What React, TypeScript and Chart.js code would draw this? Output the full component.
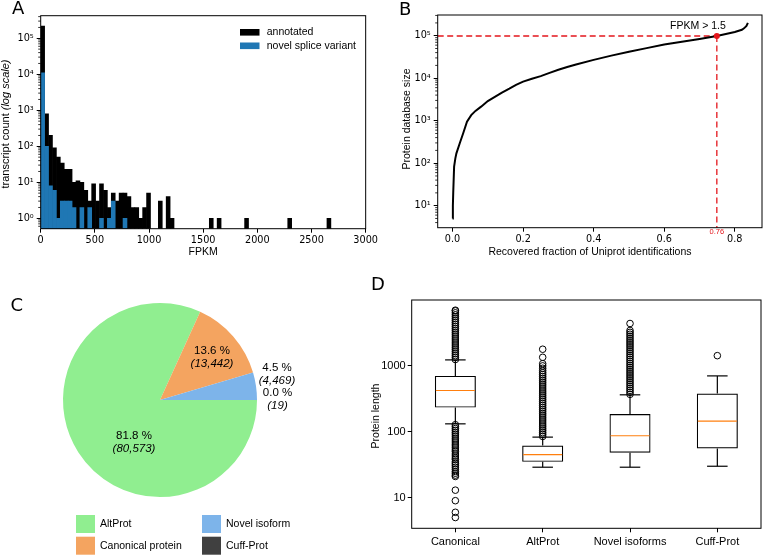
import React, { useEffect, useRef } from 'react';
import { Chart, registerables } from 'chart.js';

Chart.register(...registerables);
Chart.defaults.color = '#000';
Chart.defaults.font.family = 'DejaVu Sans';

// ---------------- Panel A: FPKM histogram ----------------
const FPKM_BIN_WIDTH = 36.2;
const annotatedCounts: (number | null)[] = [
  220000, 800, 200, 90, 50, 34, 23, 23, 10, 11,
  10, 6, 3, 9, 3, 9, 6, 2, 5, 3,
  5, 5, 4, 2, 2, 1, 2, 5, null, null,
  3, null, 4, 1, null, null, null, null, null, null,
  null, null, null, 1, null, 1, null, null, null, null,
  null, null, 1, null, null, null, null, null, null, null,
  null, null, null, 1, null, null, null, null, null, null,
  null, null, null, 1,
];
const novelCounts: (number | null)[] = [
  11000, 100, 8, 6, 1, 3, 3, 3, 2, null,
  2, null, 2, null, null, 1, null, 1, 3, null,
  null, 1,
];
const fpkmTicks = [0, 500, 1000, 1500, 2000, 2500, 3000];
const countTicks = [1, 10, 100, 1000, 10000, 100000];
const histSeries = ['annotated', 'novel splice variant'];

// ---------------- Panel B: database size vs recovered fraction ----------------
const recoveredFraction = [0, 0.001, 0.002, 0.0045, 0.008, 0.011, 0.0205, 0.03, 0.041, 0.053, 0.065, 0.081, 0.1, 0.114, 0.14, 0.161, 0.18, 0.2, 0.225, 0.25, 0.275, 0.3, 0.325, 0.35, 0.4, 0.45, 0.5, 0.55, 0.6, 0.65, 0.7, 0.749, 0.8, 0.82, 0.826, 0.833, 0.837];
const databaseSize = [5, 10, 20, 83, 130, 170, 295, 500, 950, 1350, 1700, 2140, 2900, 3400, 4600, 5700, 7000, 8300, 9700, 11200, 13300, 15800, 18300, 21000, 27000, 34000, 42000, 51000, 62000, 72000, 84000, 98500, 122000, 138000, 149000, 170000, 200000];
const fractionTicks = [0, 0.2, 0.4, 0.6, 0.8];
const sizeTicks = [10, 100, 1000, 10000, 100000];
const thresholdFraction = 0.749;
const thresholdSize = 98503;
const thresholdLabel = 'FPKM > 1.5';
const thresholdTickLabel = '0.76';

// ---------------- Panel C: pie ----------------
const pieLabels = ['AltProt', 'Canonical protein', 'Novel isoform', 'Cuff-Prot'];
const pieCounts = [80573, 13442, 4469, 19];
const pieColors = ['#90ee90', '#f4a460', '#7db4ea', '#404040'];

// ---------------- Panel D: boxplot ----------------
const boxCategories = ['Canonical', 'AltProt', 'Novel isoforms', 'Cuff-Prot'];
const boxWhiskerLow = [132, 29, 29, 30];
const boxQ1 = [233, 35, 48, 56];
const boxMedian = [423, 45, 87, 145];
const boxQ3 = [705, 62, 186, 380];
const boxWhiskerHigh = [1233, 83, 364, 705];
const canonicalOutliers = [1250, 1340, 1430, 1530, 1640, 1760, 1880, 2010, 2150, 2300, 2470, 2640, 2830, 3030, 3240, 3470, 3710, 3970, 4250, 4550, 4870, 5210, 5580, 5970, 6390, 6840, 7000,
  128, 120, 112, 105, 98, 92, 86, 80, 75, 70, 65, 61, 57, 53, 50, 46, 43, 40, 38, 35, 33, 31, 29, 27, 25, 23.5, 22, 21, 13, 9, 6, 5];
const altProtOutliers = [85, 91, 97, 104, 111, 119, 127, 136, 146, 156, 167, 179, 191, 205, 219, 234, 251, 268, 287, 307, 329, 352, 377, 403, 431, 461, 494, 528, 565, 605, 647, 692, 740, 790, 850, 920, 1000, 1080, 1350, 1790];
const novelOutliers = [370, 396, 424, 453, 485, 519, 555, 594, 636, 680, 728, 779, 833, 892, 954, 1020, 1090, 1170, 1250, 1340, 1430, 1530, 1640, 1750, 1880, 2010, 2150, 2300, 2460, 2630, 2820, 3020, 3230, 3450, 4400];
const cuffOutliers = [1430];
const lengthTicks = [10, 100, 1000];

// ---------------- helpers ----------------
const SUP: Record<string, string> = { '-': '⁻', '0': '⁰', '1': '¹', '2': '²', '3': '³', '4': '⁴', '5': '⁵', '6': '⁶', '7': '⁷', '8': '⁸', '9': '⁹' };
const powLabel = (v: number) => '10' + String(Math.round(Math.log10(v))).split('').map((c) => SUP[c]).join('');
const SANS = '"Liberation Sans", Arial, sans-serif';

const framePlugin = {
  id: 'frame',
  afterDatasetsDraw(chart: any) {
    const { ctx, chartArea: a } = chart;
    ctx.save();
    ctx.strokeStyle = '#000';
    ctx.lineWidth = 1;
    ctx.strokeRect(a.left, a.top, a.right - a.left, a.bottom - a.top);
    ctx.restore();
  },
};

const minorTicksPlugin = {
  id: 'minorTicks',
  afterDraw(chart: any) {
    const s = chart.scales.y;
    const { ctx } = chart;
    ctx.save();
    ctx.strokeStyle = '#000';
    ctx.lineWidth = 0.8;
    for (let e = Math.floor(Math.log10(s.min)); e <= Math.ceil(Math.log10(s.max)); e++) {
      for (let m = 2; m <= 9; m++) {
        const v = m * Math.pow(10, e);
        if (v < s.min || v > s.max) continue;
        const y = s.getPixelForValue(v);
        ctx.beginPath();
        ctx.moveTo(s.right - 2.5, y);
        ctx.lineTo(s.right, y);
        ctx.stroke();
      }
    }
    ctx.restore();
  },
};

function rotatedText(ctx: any, parts: { text: string; font: string }[], cx: number, cy: number) {
  ctx.save();
  ctx.translate(cx, cy);
  ctx.rotate(-Math.PI / 2);
  ctx.textBaseline = 'middle';
  ctx.textAlign = 'left';
  const widths = parts.map((p) => { ctx.font = p.font; return ctx.measureText(p.text).width; });
  let x = -widths.reduce((s, w) => s + w, 0) / 2;
  parts.forEach((p, i) => { ctx.font = p.font; ctx.fillText(p.text, x, 0); x += widths[i]; });
  ctx.restore();
}

const gridOpts = { display: true, drawOnChartArea: false, drawTicks: true, tickLength: 4, color: '#000', lineWidth: 1, offset: false };
const baseOptions = (padding: any) => ({
  responsive: false,
  animation: false,
  devicePixelRatio: 1,
  events: [],
  layout: { padding },
  plugins: { legend: { display: false }, tooltip: { enabled: false }, title: { display: false } },
});

function ChartCanvas({ x, y, w, h, make }: { x: number; y: number; w: number; h: number; make: () => any }) {
  const ref = useRef<HTMLCanvasElement>(null);
  useEffect(() => {
    const chart = new Chart(ref.current as HTMLCanvasElement, make());
    return () => chart.destroy();
  }, []);
  return <canvas ref={ref} width={w} height={h} style={{ position: 'absolute', left: x, top: y, width: w, height: h }} />;
}

// ---------------- Panel A config ----------------
const binPoints = (counts: (number | null)[]) =>
  counts.map((c, i) => ({ x: (i + 0.5) * FPKM_BIN_WIDTH, y: c })).filter((p) => p.y !== null);

const histColors = ['#000000', '#1f77b4'];

const panelAText = {
  id: 'panelAText',
  afterDraw(chart: any) {
    const { ctx, chartArea: a } = chart;
    ctx.save();
    ctx.fillStyle = '#000';
    ctx.font = `10.5px ${SANS}`;
    ctx.textAlign = 'center';
    ctx.textBaseline = 'middle';
    ctx.fillText('FPKM', (a.left + a.right) / 2, 252);
    rotatedText(ctx, [
      { text: 'transcript count ', font: `11px ${SANS}` },
      { text: '(log scale)', font: `italic 11px ${SANS}` },
    ], 6, 124);
    // legend
    histSeries.forEach((name, i) => {
      const yy = 32.3 + i * 13.5;
      ctx.fillStyle = histColors[i];
      ctx.fillRect(240, yy - 3.3, 19.5, 6.6);
      ctx.fillStyle = '#000';
      ctx.font = `10.5px ${SANS}`;
      ctx.textAlign = 'left';
      ctx.textBaseline = 'middle';
      ctx.fillText(name, 266.7, yy);
    });
    ctx.restore();
  },
};

const makeA = () => ({
  type: 'bar',
  data: {
    datasets: [
      { label: histSeries[1], data: binPoints(novelCounts), backgroundColor: histColors[1], grouped: false, barPercentage: 1, categoryPercentage: 1, borderWidth: 0, order: 0 },
      { label: histSeries[0], data: binPoints(annotatedCounts), backgroundColor: histColors[0], grouped: false, barPercentage: 1, categoryPercentage: 1, borderWidth: 0, order: 1 },
    ],
  },
  options: {
    ...baseOptions({ left: 0, top: 15.7, right: 13.3, bottom: 0 }),
    scales: {
      x: {
        type: 'linear', min: 0, max: 3000, offset: false,
        grid: gridOpts, border: { display: false },
        ticks: { font: { family: 'DejaVu Sans', size: 9.7 }, color: '#000', padding: 2, maxRotation: 0, autoSkip: false, callback: (v: any) => String(Number(v)) },
        afterBuildTicks: (s: any) => { s.ticks = fpkmTicks.map((v) => ({ value: v })); },
        afterFit: (s: any) => { s.height = 41.3; },
      },
      y: {
        type: 'logarithmic', min: 0.514, max: 424000,
        grid: gridOpts, border: { display: false },
        ticks: { font: { family: 'DejaVu Sans', size: 9.7 }, color: '#000', padding: 3, autoSkip: false, callback: (v: any) => powLabel(Number(v)) },
        afterBuildTicks: (s: any) => { s.ticks = countTicks.map((v) => ({ value: v, major: true })); },
        afterFit: (s: any) => { s.width = 40.7; },
      },
    },
  },
  plugins: [framePlugin, minorTicksPlugin, panelAText],
});

// ---------------- Panel B config ----------------
const panelBText = {
  id: 'panelBText',
  beforeDatasetsDraw(chart: any) {
    const { ctx, chartArea: a, scales } = chart;
    const px = scales.x.getPixelForValue(thresholdFraction);
    const py = scales.y.getPixelForValue(thresholdSize);
    ctx.save();
    ctx.strokeStyle = '#e4161c';
    ctx.lineWidth = 1.3;
    ctx.setLineDash([6, 3.5]);
    ctx.beginPath();
    ctx.moveTo(a.left, py);
    ctx.lineTo(px, py);
    ctx.stroke();
    ctx.beginPath();
    ctx.moveTo(px, py);
    ctx.lineTo(px, a.bottom);
    ctx.stroke();
    ctx.restore();
  },
  afterDraw(chart: any) {
    const { ctx, chartArea: a, scales } = chart;
    const px = scales.x.getPixelForValue(thresholdFraction);
    const py = scales.y.getPixelForValue(thresholdSize);
    ctx.save();
    ctx.fillStyle = '#000';
    ctx.font = `10.5px ${SANS}`;
    ctx.textAlign = 'right';
    ctx.textBaseline = 'middle';
    ctx.fillText(thresholdLabel, px + 9, py - 10);
    ctx.fillStyle = '#e4161c';
    ctx.font = `7.5px ${SANS}`;
    ctx.textAlign = 'center';
    ctx.fillText(thresholdTickLabel, px, a.bottom + 4);
    ctx.fillStyle = '#000';
    ctx.font = `10.5px ${SANS}`;
    ctx.fillText('Recovered fraction of Uniprot identifications', 210, 252);
    rotatedText(ctx, [{ text: 'Protein database size', font: `10.5px ${SANS}` }], 27, 119);
    ctx.restore();
  },
};

const makeB = () => ({
  type: 'line',
  data: {
    datasets: [
      { data: [{ x: thresholdFraction, y: thresholdSize }], type: 'scatter', pointRadius: 3, backgroundColor: '#e4161c', borderColor: '#e4161c', borderWidth: 0, order: 0 },
      { data: recoveredFraction.map((f, i) => ({ x: f, y: databaseSize[i] })), borderColor: '#000', borderWidth: 2, pointRadius: 0, tension: 0, fill: false, order: 1 },
    ],
  },
  options: {
    ...baseOptions({ left: 0, top: 15, right: 1, bottom: 0 }),
    scales: {
      x: {
        type: 'linear', min: -0.042, max: 0.877, offset: false,
        grid: gridOpts, border: { display: false },
        ticks: { font: { family: 'DejaVu Sans', size: 9.7 }, color: '#000', padding: 2, maxRotation: 0, autoSkip: false, callback: (v: any) => Number(v).toFixed(1) },
        afterBuildTicks: (s: any) => { s.ticks = fractionTicks.map((v) => ({ value: v })); },
        afterFit: (s: any) => { s.height = 42.3; },
      },
      y: {
        type: 'logarithmic', min: 3.03, max: 307000,
        grid: gridOpts, border: { display: false },
        ticks: { font: { family: 'DejaVu Sans', size: 9.7 }, color: '#000', padding: 3, autoSkip: false, callback: (v: any) => powLabel(Number(v)) },
        afterBuildTicks: (s: any) => { s.ticks = sizeTicks.map((v) => ({ value: v, major: true })); },
        afterFit: (s: any) => { s.width = 57.7; },
      },
    },
  },
  plugins: [framePlugin, minorTicksPlugin, panelBText],
});

// ---------------- Panel C config ----------------
const pieTotal = pieCounts.reduce((s, v) => s + v, 0);
const PIE_LABEL_OFFSETS = [[-26, 42], [52, -42.5], [117, -25.5], [117.5, -0.7]];

const panelCText = {
  id: 'panelCText',
  afterDraw(chart: any) {
    const { ctx } = chart;
    const arc = chart.getDatasetMeta(0).data[0];
    const cx = arc.x, cy = arc.y;
    ctx.save();
    ctx.fillStyle = '#000';
    ctx.textAlign = 'center';
    ctx.textBaseline = 'middle';
    pieCounts.forEach((v, i) => {
      const [dx, dy] = PIE_LABEL_OFFSETS[i];
      ctx.font = `11.5px ${SANS}`;
      ctx.fillText(`${((v / pieTotal) * 100).toFixed(1)} %`, cx + dx, cy + dy - 6.5);
      ctx.font = `italic 11.5px ${SANS}`;
      ctx.fillText(`(${v.toLocaleString('en-US')})`, cx + dx, cy + dy + 6.5);
    });
    // legend (2 columns, column-major)
    pieLabels.forEach((name, i) => {
      const col = Math.floor(i / 2), row = i % 2;
      const bx = col === 0 ? 76 : 202;
      const by = 235 + row * 21.7;
      ctx.fillStyle = pieColors[i];
      ctx.fillRect(bx, by, 19, 18);
      ctx.fillStyle = '#000';
      ctx.font = `10.5px ${SANS}`;
      ctx.textAlign = 'left';
      ctx.fillText(name, bx + 24, by + 9);
    });
    ctx.restore();
  },
};

const makeC = () => ({
  type: 'pie',
  data: {
    labels: pieLabels,
    datasets: [{ data: pieCounts, backgroundColor: pieColors, borderWidth: 0, hoverOffset: 0, offset: 0 }],
  },
  options: {
    ...baseOptions({ left: 63, top: 23, right: 109, bottom: 59 }),
    rotation: 90,
  },
  plugins: [panelCText],
});

// ---------------- Panel D config ----------------
const boxPlugin = {
  id: 'boxWhiskers',
  afterDatasetsDraw(chart: any) {
    const { ctx } = chart;
    const ys = chart.scales.y;
    const meta = chart.getDatasetMeta(0);
    ctx.save();
    boxCategories.forEach((_, i) => {
      const bar = meta.data[i];
      const cx = bar.x;
      const w = bar.width;
      const line = (x1: number, y1: number, x2: number, y2: number) => { ctx.beginPath(); ctx.moveTo(x1, y1); ctx.lineTo(x2, y2); ctx.stroke(); };
      ctx.strokeStyle = '#000';
      ctx.lineWidth = 1.2;
      line(cx, ys.getPixelForValue(boxQ1[i]), cx, ys.getPixelForValue(boxWhiskerLow[i]));
      line(cx, ys.getPixelForValue(boxQ3[i]), cx, ys.getPixelForValue(boxWhiskerHigh[i]));
      line(cx - w / 4, ys.getPixelForValue(boxWhiskerLow[i]), cx + w / 4, ys.getPixelForValue(boxWhiskerLow[i]));
      line(cx - w / 4, ys.getPixelForValue(boxWhiskerHigh[i]), cx + w / 4, ys.getPixelForValue(boxWhiskerHigh[i]));
      ctx.strokeStyle = '#ff7f0e';
      line(cx - w / 2 + 1, ys.getPixelForValue(boxMedian[i]), cx + w / 2 - 1, ys.getPixelForValue(boxMedian[i]));
    });
    ctx.restore();
  },
  afterDraw(chart: any) {
    const { ctx } = chart;
    ctx.save();
    ctx.fillStyle = '#000';
    rotatedText(ctx, [{ text: 'Protein length', font: `10.5px ${SANS}` }], 10, 140);
    ctx.restore();
  },
};

const makeD = () => ({
  type: 'bar',
  data: {
    labels: boxCategories,
    datasets: [
      { type: 'bar', data: boxQ1.map((q, i) => [q, boxQ3[i]]), backgroundColor: 'rgba(0,0,0,0)', borderColor: '#000', borderWidth: 1.2, borderSkipped: false, barPercentage: 0.47, categoryPercentage: 1, inflateAmount: 0 },
      {
        type: 'scatter',
        data: [canonicalOutliers, altProtOutliers, novelOutliers, cuffOutliers].flatMap((arr, i) => arr.map((v) => ({ x: boxCategories[i], y: v }))),
        pointRadius: 3.3, borderWidth: 1, borderColor: '#000', backgroundColor: 'rgba(0,0,0,0)',
      },
    ],
  },
  options: {
    ...baseOptions({ left: 0, top: 24, right: 5, bottom: 0 }),
    scales: {
      x: {
        type: 'category', offset: true,
        grid: gridOpts, border: { display: false },
        ticks: { font: { family: SANS, size: 11 }, color: '#000', padding: 3, maxRotation: 0, autoSkip: false },
        afterFit: (s: any) => { s.height = 27.7; },
      },
      y: {
        type: 'logarithmic', min: 3.43, max: 10000,
        grid: gridOpts, border: { display: false },
        ticks: { font: { family: SANS, size: 11 }, color: '#000', padding: 2, autoSkip: false, callback: (v: any) => String(Number(v)) },
        afterBuildTicks: (s: any) => { s.ticks = lengthTicks.map((v) => ({ value: v, major: true })); },
        afterFit: (s: any) => { s.width = 45.7; },
      },
    },
  },
  plugins: [framePlugin, boxPlugin],
});

const letterStyle = (left: number, top: number): React.CSSProperties => ({
  position: 'absolute', left, top, fontFamily: 'DejaVu Sans', fontSize: 18, lineHeight: '18px', color: '#000',
});

export default function App() {
  return (
    <div style={{ position: 'absolute', left: 0, top: 0, width: 766, height: 556, background: '#fff', overflow: 'hidden' }}>
      <ChartCanvas x={0} y={0} w={380} h={270} make={makeA} />
      <ChartCanvas x={380} y={0} w={386} h={270} make={makeB} />
      <ChartCanvas x={0} y={280} w={366} h={276} make={makeC} />
      <ChartCanvas x={366} y={276} w={400} h={280} make={makeD} />
      <div style={letterStyle(12, -1.5)}>A</div>
      <div style={letterStyle(399, -0.5)}>B</div>
      <div style={letterStyle(10.5, 295.5)}>C</div>
      <div style={letterStyle(371, 274.8)}>D</div>
    </div>
  );
}
